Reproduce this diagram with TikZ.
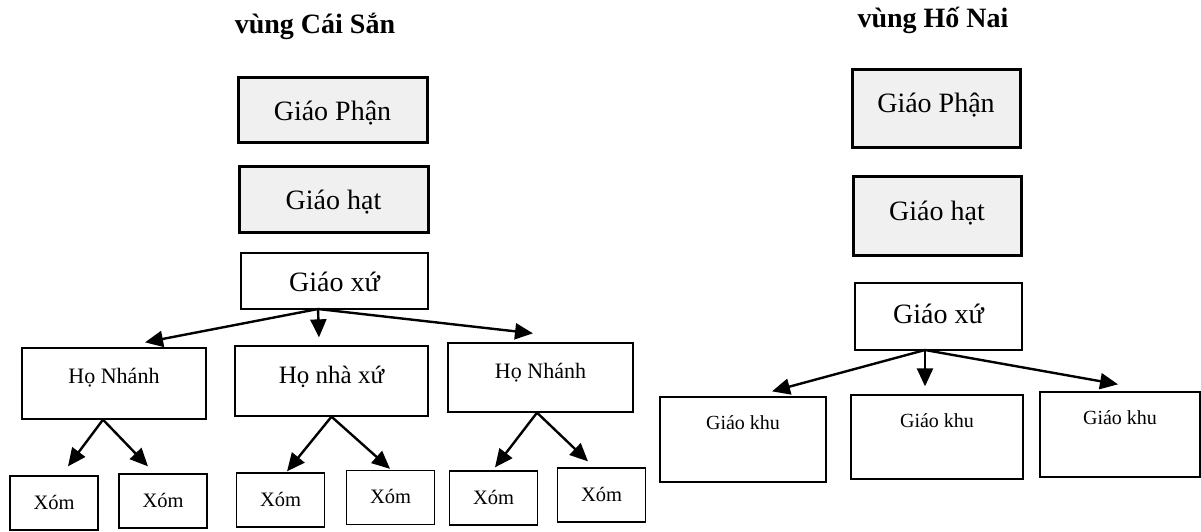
\documentclass[tikz,border=0pt]{standalone}
\usepackage{fontspec}
\setmainfont{Liberation Serif}
\usetikzlibrary{arrows.meta}
\begin{document}
\begin{tikzpicture}[x=1pt,y=1pt,
    heading/.style={anchor=base,font=\fontsize{28}{30}\selectfont\bfseries},
    rank/.style={draw,line width=3pt,fill=black!6,inner sep=0pt,text depth=0pt,
      font=\fontsize{28}{30}\selectfont},
    unit/.style={draw,line width=1.3pt,inner sep=0pt,text depth=0pt},
    ho/.style={unit,font=\fontsize{22}{24}\selectfont},
    xom/.style={unit,minimum width=88pt,minimum height=54pt,text height=12pt,
      font=\fontsize{20.5}{22}\selectfont},
    khu/.style={unit,text height=32pt,text depth=53pt,font=\fontsize{20}{22}\selectfont},
    arr/.style={line width=2.4pt,-{Triangle[length=18pt,width=16pt]}}]
    \useasboundingbox (0,0) rectangle (1201,-531);
    % vung Cai San
    \node[heading] (titleL) at (315,-33) {vùng Cái Sắn};
    \node[rank,minimum width=189pt,minimum height=65pt,text height=21pt] (phanL) at (332.5,-109.5) {Giáo Phận};
    \node[rank,minimum width=189pt,minimum height=66pt,text height=21pt] (hatL) at (333.5,-199) {Giáo hạt};
    \node[unit,minimum width=187pt,minimum height=56pt,text height=21pt,
      font=\fontsize{28}{30}\selectfont] (xuL) at (334.5,-281) {Giáo xứ};
    \coordinate (forkL) at (318,-309);
    \node[ho,minimum width=184pt,text height=35pt,text depth=36pt] (hoA) at (114,-383.5) {Họ Nhánh};
    \node[ho,minimum width=193pt,text height=37pt,text depth=33pt,
      font=\fontsize{25}{27}\selectfont] (hoB) at (331.5,-381) {Họ nhà xứ};
    \node[ho,minimum width=185pt,text height=35pt,text depth=34pt] (hoC) at (540.5,-377.5) {Họ Nhánh};
    \node[xom] (xom1) at (54,-503) {Xóm};
    \node[xom] (xom2) at (163,-501) {Xóm};
    \node[xom] (xom3) at (280.5,-500) {Xóm};
    \node[xom] (xom4) at (390.5,-497.5) {Xóm};
    \node[xom] (xom5) at (493.5,-498) {Xóm};
    \node[xom] (xom6) at (601.5,-495) {Xóm};
    \draw[arr] (forkL) -- ([xshift=31pt,yshift=5pt]hoA.north);
    \draw[arr] (forkL) -- ([xshift=-12.5pt,yshift=8pt]hoB.north);
    \draw[arr] (forkL) -- ([xshift=-7.5pt,yshift=9pt]hoC.north);
    \draw[arr] ([xshift=-11pt]hoA.south) -- ([xshift=14pt,yshift=9pt]xom1.north);
    \draw[arr] ([xshift=-11pt]hoA.south) -- ([xshift=-15pt,yshift=7pt]xom2.north);
    \draw[arr] (hoB.south) -- ([xshift=6.5pt,yshift=1pt]xom3.north);
    \draw[arr] (hoB.south) -- ([xshift=-0.5pt,yshift=1pt]xom4.north);
    \draw[arr] ([xshift=-3.5pt]hoC.south) -- ([xshift=1.5pt,yshift=3pt]xom5.north);
    \draw[arr] ([xshift=-3.5pt]hoC.south) -- ([xshift=-13.5pt,yshift=6pt]xom6.north);
    % vung Ho Nai
    \node[heading] (titleR) at (933,-27) {vùng Hố Nai};
    \node[rank,minimum width=168pt,minimum height=78pt,text height=9.5pt] (phanR) at (936,-108) {Giáo Phận};
    \node[rank,minimum width=168pt,minimum height=79pt,text height=9.5pt] (hatR) at (937,-215.5) {Giáo hạt};
    \node[unit,minimum width=167pt,minimum height=67pt,text height=13pt,
      font=\fontsize{28}{30}\selectfont] (xuR) at (938.5,-316.5) {Giáo xứ};
    \coordinate (forkR) at (925,-350);
    \node[khu,minimum width=166pt] (khuA) at (743,-439.5) {Giáo khu};
    \node[khu,minimum width=172pt,text depth=52pt] (khuB) at (937,-437) {Giáo khu};
    \node[khu,minimum width=160pt] (khuC) at (1120,-434.5) {Giáo khu};
    \draw[arr] (forkR) -- ([xshift=29pt,yshift=5pt]khuA.north);
    \draw[arr] (forkR) -- ([xshift=-12pt,yshift=8pt]khuB.north);
    \draw[arr] (forkR) -- ([xshift=-2pt,yshift=7pt]khuC.north);
\end{tikzpicture}
\end{document}
